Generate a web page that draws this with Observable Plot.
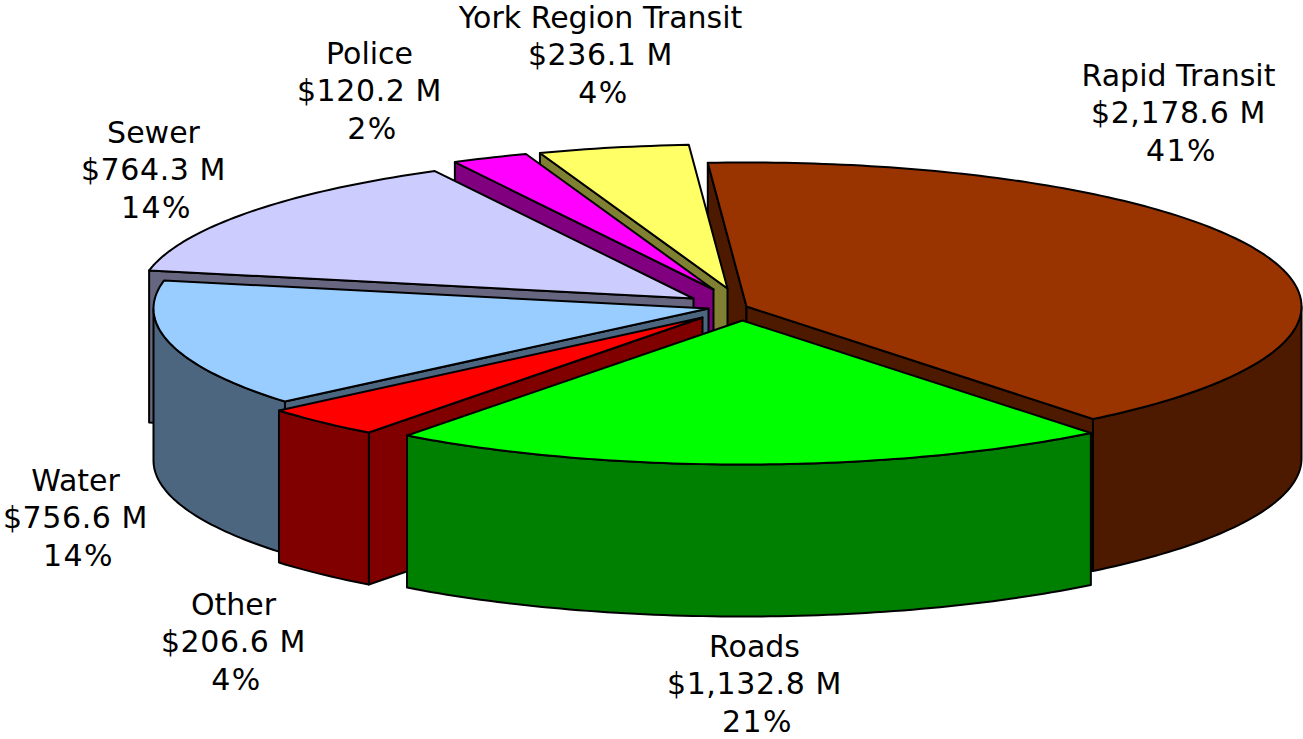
<!DOCTYPE html>
<html>
<head>
<meta charset="utf-8">
<style>html,body{margin:0;padding:0;background:#fff}svg{display:block}</style>
<script src="https://cdn.jsdelivr.net/npm/d3@7"></script>
<script src="https://cdn.jsdelivr.net/npm/@observablehq/plot@0.6"></script>
</head>
<body>
<div id="chart"></div>
<script>
// --- data ---
const names = ["Rapid Transit", "Roads", "Other", "Water", "Sewer", "Police", "York Region Transit"];
const values = [2178.6, 1132.8, 206.6, 756.6, 764.3, 120.2, 236.1];
const percents = ["41%", "21%", "4%", "14%", "14%", "2%", "4%"];

// --- styles ---
const topColors = ["#993300", "#00FF00", "#FF0000", "#99CCFF", "#CCCCFF", "#FF00FF", "#FFFF66"];
const sideColors = ["#4D1A00", "#008000", "#800000", "#4D6680", "#666680", "#800080", "#808033"];

// --- layout of the exploded pie ---
const W = 1303, H = 739;
const ry = 144, depth = 152, startAngle = -4;
const rimX = [555, 558, 555, 555, 555, 555, 555];
const explodedX = [746, 742, 702, 708, 693, 713, 727];
const explodedY = [306, 320, 317, 308, 298, 289, 288];
const boundaryNudge = [0, 0, -1, 0, 0, 0, 0];
const labelX = [1178, 754, 233, 75, 153, 369, 600];
const labelY = [113, 684, 642, 518, 170, 91, 55];
const lineGap = 37.5;
const paintOrder = [0, 6, 5, 4, 3, 2, 1];

const total = d3.sum(values);
const rad = d => d * Math.PI / 180;
const money = d3.format("$,.1f");

let acc = startAngle;
const slices = names.map((name, i) => {
  const a0 = acc + (i ? boundaryNudge[i - 1] : 0);
  acc += values[i] / total * 360;
  return {name, i, a0, a1: acc + boundaryNudge[i], cx: explodedX[i], cy: explodedY[i], rx: rimX[i]};
});

const rim = (s, a, dz = 0) => ({
  x: s.cx + s.rx * Math.sin(rad(a)),
  y: s.cy - ry * Math.cos(rad(a)) + dz
});
const arc = (s, a0, a1, dz = 0) => {
  const n = Math.max(2, Math.ceil(Math.abs(a1 - a0)));
  return d3.range(n + 1).map(k => rim(s, a0 + (a1 - a0) * k / n, dz));
};
const apex = (s, dz = 0) => ({x: s.cx, y: s.cy + dz});
const wall = (s, a) => [apex(s), rim(s, a), rim(s, a, depth), apex(s, depth)];

function faces(s) {
  const out = [];
  const side = sideColors[s.i];
  // cut faces that turn towards the viewer
  if (Math.sin(rad(s.a0)) < 0) out.push({pts: wall(s, s.a0), fill: side});
  if (Math.sin(rad(s.a1)) > 0) out.push({pts: wall(s, s.a1), fill: side});
  // outer rim on the front half of the pie
  const lo = Math.max(s.a0, 90), hi = Math.min(s.a1, 270);
  if (hi > lo) out.push({pts: [...arc(s, lo, hi), ...arc(s, hi, lo, depth)], fill: side});
  // top face
  out.push({pts: [apex(s), ...arc(s, s.a0, s.a1)], fill: topColors[s.i]});
  return out;
}

const polys = paintOrder.flatMap(i => faces(slices[i]));

const labels = names.map((name, i) => ({
  x: labelX[i],
  y: labelY[i],
  name,
  value: `${money(values[i])} M`,
  pct: percents[i]
}));

const spaced = px => (index, scales, channels, dims, ctx, next) => {
  const g = next(index, scales, channels, dims, ctx);
  g.style.letterSpacing = px + "px";
  return g;
};
const labelLine = (field, offset, spacing, dx = 0) => Plot.text(labels, {
  x: d => d.x + dx, y: d => d.y + offset * lineGap, text: field,
  fontFamily: "DejaVu Sans", fontSize: 30, fill: "#000",
  textAnchor: "middle", lineAnchor: "middle",
  render: spaced(spacing)
});

const chart = Plot.plot({
  width: W,
  height: H,
  margin: 0,
  x: {domain: [0, W], range: [0, W], axis: null},
  y: {domain: [0, H], range: [0, H], axis: null},
  style: {background: "#fff"},
  marks: [
    ...polys.map(p => Plot.line([...p.pts, p.pts[0]], {
      x: "x", y: "y", fill: p.fill, stroke: "#000",
      strokeWidth: 2, strokeLinejoin: "round", curve: "linear"
    })),
    labelLine("name", -1, 0),
    labelLine("value", 0, 0.6),
    labelLine("pct", 1, 1.5, 3)
  ]
});
document.getElementById("chart").appendChild(chart);
</script>
</body>
</html>
